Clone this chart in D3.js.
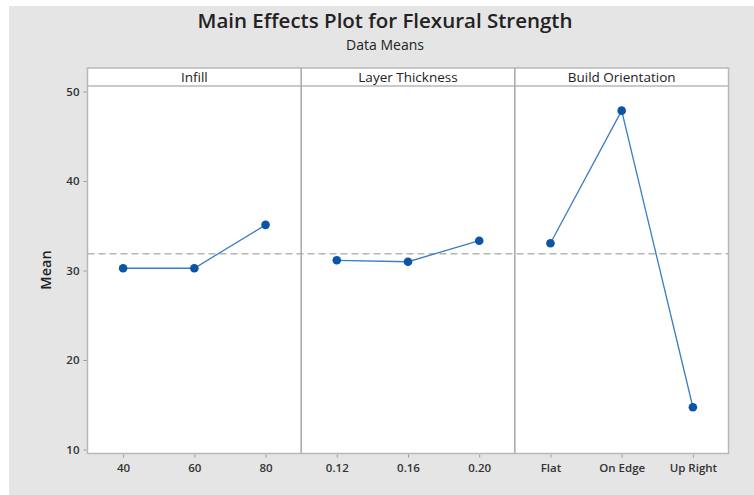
<!DOCTYPE html>
<html>
<head>
<meta charset="utf-8">
<script src="https://cdn.jsdelivr.net/npm/d3@7"></script>
<style>
  html, body { margin: 0; padding: 0; background: #ffffff; }
  svg { display: block; font-family: "Open Sans", "Noto Sans", sans-serif; }
</style>
</head>
<body>
<svg id="chart" width="754" height="495"></svg>
<script>
// Factors and their level means
const factors = ["Infill", "Layer Thickness", "Build Orientation"];
const infillLevels = ["40", "60", "80"];
const infillMeans = [30.25, 30.25, 35.10];
const layerLevels = ["0.12", "0.16", "0.20"];
const layerMeans = [31.14, 30.98, 33.33];
const orientLevels = ["Flat", "On Edge", "Up Right"];
const orientMeans = [33.04, 47.86, 14.72];
const grandMean = 31.87;
const yTicks = [10, 20, 30, 40, 50];

const panels = [
  { name: factors[0], levels: infillLevels, means: infillMeans },
  { name: factors[1], levels: layerLevels, means: layerMeans },
  { name: factors[2], levels: orientLevels, means: orientMeans }
];

const W = 754, H = 495;
const svg = d3.select("#chart");

// background frame
svg.append("rect").attr("x", 9).attr("y", 6).attr("width", W - 9).attr("height", H - 6)
  .attr("fill", "#e5e5e5");

// titles
svg.append("text").attr("x", 385).attr("y", 28).attr("text-anchor", "middle")
  .attr("font-size", 20.5).attr("font-weight", 600).attr("fill", "#222")
  .text("Main Effects Plot for Flexural Strength");
svg.append("text").attr("x", 385).attr("y", 50).attr("text-anchor", "middle")
  .attr("font-size", 14).attr("fill", "#222")
  .text("Data Means");

const plotLeft = 87.5, plotRight = 728.5;
const stripTop = 68, stripBottom = 86, plotBottom = 453.5;

const y = d3.scaleLinear().domain([10, 50]).range([449.5, 91.5]);

const panelX = d3.scaleBand().domain(factors).range([plotLeft, plotRight]).padding(0);
const pw = panelX.bandwidth();

// white plot area + strip
svg.append("rect").attr("x", plotLeft).attr("y", stripTop)
  .attr("width", plotRight - plotLeft).attr("height", plotBottom - stripTop)
  .attr("fill", "#fff").attr("stroke", "#b8b8b8").attr("stroke-width", 1.5);
svg.append("line").attr("x1", plotLeft).attr("x2", plotRight)
  .attr("y1", stripBottom).attr("y2", stripBottom)
  .attr("stroke", "#b8b8b8").attr("stroke-width", 1.5);

// reference line at grand mean
svg.append("line").attr("x1", plotLeft).attr("x2", plotRight)
  .attr("y1", y(grandMean)).attr("y2", y(grandMean))
  .attr("stroke", "#b5b5b5").attr("stroke-width", 1.5)
  .attr("stroke-dasharray", "7,4");

// y axis
const yAxis = d3.axisLeft(y).tickValues(yTicks).tickSize(3).tickPadding(4);
const gy = svg.append("g").attr("transform", `translate(${plotLeft - 1},0)`).call(yAxis);
gy.select(".domain").remove();
gy.selectAll(".tick line").attr("stroke", "#999");
gy.selectAll(".tick text").attr("font-size", 11.5).attr("font-weight", 600)
  .attr("fill", "#333").attr("font-family", "'Open Sans', sans-serif");

svg.append("text").attr("transform", "translate(51,270) rotate(-90)")
  .attr("text-anchor", "middle").attr("font-size", 14.5).attr("font-weight", 600)
  .attr("fill", "#222").text("Mean");

panels.forEach((p, i) => {
  const x0 = panelX(p.name);
  const x = d3.scalePoint().domain(p.levels).range([x0, x0 + pw]).padding(0.5);

  if (i > 0) {
    svg.append("line").attr("x1", x0).attr("x2", x0)
      .attr("y1", stripTop).attr("y2", plotBottom)
      .attr("stroke", "#a8a8a8").attr("stroke-width", 1.5);
  }

  svg.append("text").attr("x", x0 + pw / 2).attr("y", 82).attr("text-anchor", "middle")
    .attr("font-size", 13.5).attr("fill", "#222").text(p.name);

  const xAxis = d3.axisBottom(x).tickSize(3).tickPadding(6);
  const gx = svg.append("g").attr("transform", `translate(0,${plotBottom + 1})`).call(xAxis);
  gx.select(".domain").remove();
  gx.selectAll(".tick line").attr("stroke", "#999");
  gx.selectAll(".tick text").attr("font-size", 11.5).attr("font-weight", 600)
    .attr("fill", "#333").attr("font-family", "'Open Sans', sans-serif");

  const pts = p.levels.map((l, j) => [x(l), y(p.means[j])]);
  svg.append("path").attr("d", d3.line()(pts)).attr("fill", "none")
    .attr("stroke", "#3b7cc4").attr("stroke-width", 1.3);
  svg.selectAll(null).data(pts).enter().append("circle")
    .attr("cx", d => d[0]).attr("cy", d => d[1]).attr("r", 4.3)
    .attr("fill", "#0b55a6");
});
</script>
</body>
</html>
